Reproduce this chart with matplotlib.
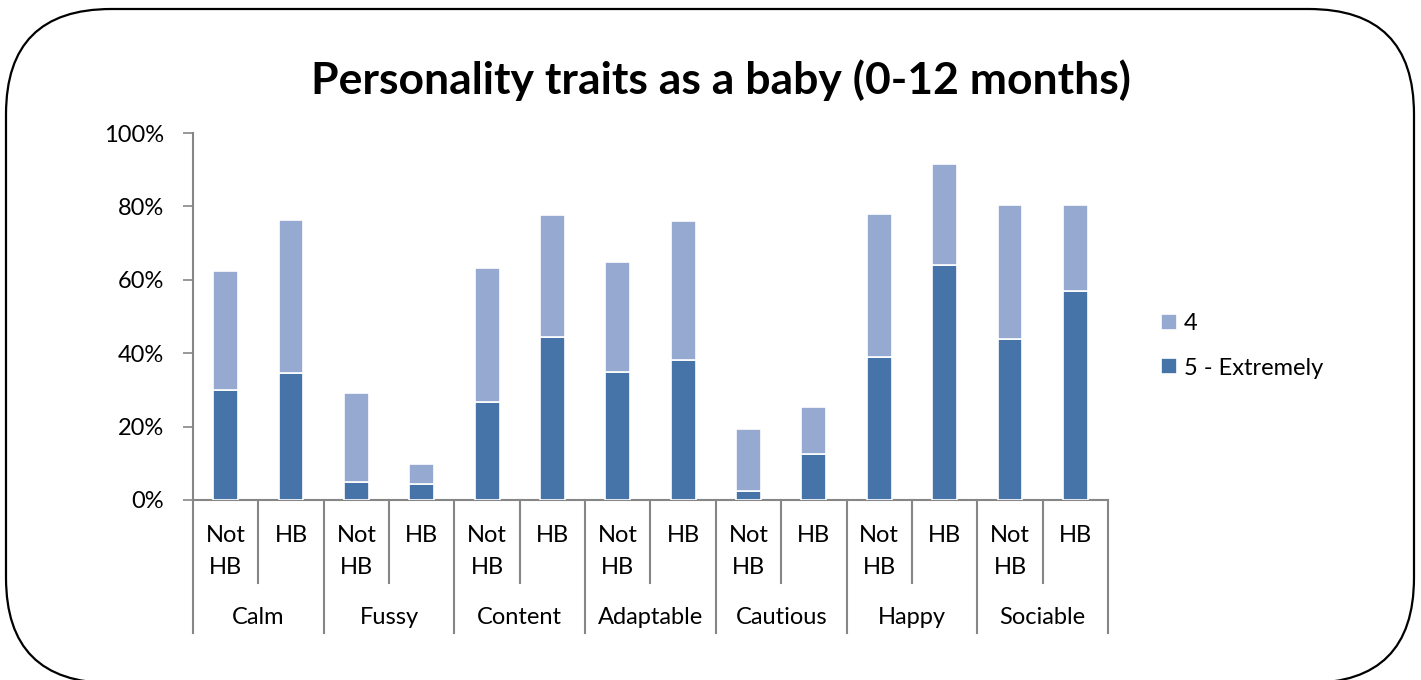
import matplotlib.pyplot as plt
from matplotlib.patches import FancyBboxPatch
import numpy as np

plt.rcParams['font.family'] = ['Lato', 'DejaVu Sans']

# --- data ---
traits = ["Calm", "Fussy", "Content", "Adaptable", "Cautious", "Happy", "Sociable"]
groups = ["Not\nHB", "HB"]
# "5 - Extremely" share, per trait: [Not HB, HB]
extremely = [30.0, 34.6, 4.9, 4.4, 26.7, 44.4, 34.9, 38.1, 2.5, 12.5, 39.0, 64.0, 43.9, 57.0]
# "4" share stacked on top
four = [32.4, 41.7, 24.3, 5.4, 36.5, 33.3, 30.0, 37.9, 16.8, 12.8, 38.9, 27.6, 36.5, 23.4]

dark = "#4673A8"
light = "#95A9D1"
grey = "#868686"

fig = plt.figure(figsize=(14.21, 6.8), dpi=100)

# rounded frame around the chart (bottom edge falls just off the image)
frame = FancyBboxPatch((6 / 1421, -3 / 680), 1408 / 1421, 674 / 680,
                       boxstyle="round,pad=0,rounding_size=0.074",
                       transform=fig.transFigure, fill=False,
                       edgecolor="black", linewidth=1.6,
                       mutation_aspect=1421 / 680)
fig.patches.append(frame)

ax = fig.add_axes([193 / 1421, 1 - 500 / 680, 915 / 1421, 367 / 680])

x = np.arange(len(extremely))
w = 0.38
b1 = ax.bar(x, extremely, w, color=dark, edgecolor="white", linewidth=1.2,
            label="5 - Extremely", zorder=3)
b2 = ax.bar(x, four, w, bottom=extremely, color=light, edgecolor="white",
            linewidth=1.2, label="4", zorder=3)

ax.set_xlim(-0.5, len(extremely) - 0.5)
ax.set_ylim(0, 100)
ax.set_yticks(range(0, 101, 20))
ax.set_yticklabels([f"{v}%" for v in range(0, 101, 20)], fontsize=17)
ax.tick_params(axis="y", length=7, color=grey, width=1.2, pad=14)
ax.set_xticks([])

for s in ["top", "right"]:
    ax.spines[s].set_visible(False)
for s in ["left", "bottom"]:
    ax.spines[s].set_color(grey)
    ax.spines[s].set_linewidth(1.5)

# multi-level category axis drawn below the plot
trans = ax.get_xaxis_transform()
px = 1 / 367  # one pixel in axes-height units
for i in range(len(extremely)):
    lines = groups[i % 2].split("\n")
    for j, line in enumerate(lines):
        ax.text(i, -(35 + 33 * j) * px, line, transform=trans, ha="center",
                va="center", fontsize=17)
for k, t in enumerate(traits):
    ax.text(2 * k + 0.5, -118 * px, t, transform=trans, ha="center", va="center",
            fontsize=17)
for i in range(len(extremely) + 1):
    if i % 2 == 0:
        y_end = -133 * px
    else:
        y_end = -83 * px
    ax.plot([i - 0.5, i - 0.5], [0, y_end], transform=trans, color=grey,
            linewidth=1.5, clip_on=False)

fig.text(0.5 + 10 / 1421, 1 - 80 / 680, "Personality traits as a baby (0-12 months)",
         ha="center", va="center", fontsize=32, fontweight="bold")

leg = ax.legend(handles=[b2, b1], loc="center left", bbox_to_anchor=(1.035, 0.42),
                frameon=False, fontsize=17, handlelength=0.65, handleheight=0.65,
                handletextpad=0.3, labelspacing=1.0)

fig.savefig("out.png", dpi=100)
